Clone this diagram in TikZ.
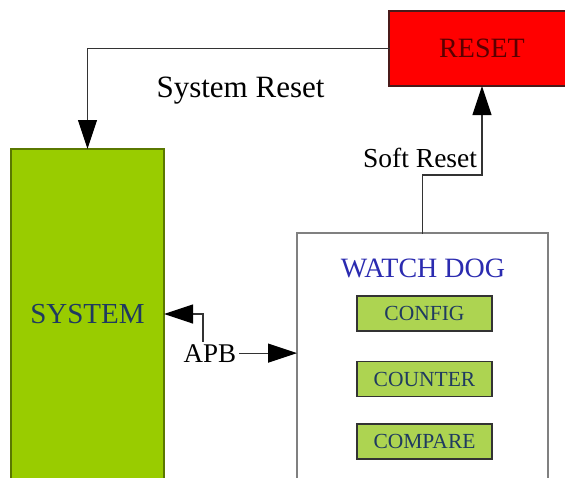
\documentclass[tikz,border=0pt]{standalone}
\usepackage{fontspec}
\setmainfont{Liberation Serif}
\usetikzlibrary{arrows.meta}

\begin{document}
\begin{tikzpicture}[x=1pt,y=-1pt,line cap=rect,
  blk/.style={inner sep=0, outer sep=0, line width=1.5pt},
  subblk/.style={blk, draw=custcol_33_33_33, fill=custcol_ad_d4_51, text=custcol_1f_3a_60,
    minimum width=135pt, minimum height=35pt, font=\fontsize{21.5pt}{21.5pt}\selectfont},
  sig/.style={line width=1.2pt, custcol_33_33_33, -{Triangle[length=29pt,width=19pt,color=custcol_0_0_0]}},
  lbl/.style={inner sep=0, outer sep=0, custcol_0_0_0}]
\definecolor{custcol_0_0_0}{RGB}{0, 0, 0}
\definecolor{custcol_33_33_33}{RGB}{51, 51, 51}
\definecolor{custcol_ff_00_00}{RGB}{255, 0, 0}
\definecolor{custcol_5a_00_00}{RGB}{90, 0, 0}
\definecolor{custcol_4a_1a_1a}{RGB}{74, 26, 26}
\definecolor{custcol_99_cc_00}{RGB}{153, 204, 0}
\definecolor{custcol_5a_78_00}{RGB}{90, 120, 0}
\definecolor{custcol_ad_d4_51}{RGB}{173, 212, 81}
\definecolor{custcol_1f_3a_60}{RGB}{31, 58, 96}
\definecolor{custcol_2b_2b_b0}{RGB}{43, 43, 176}
\definecolor{custcol_80_80_80}{RGB}{128, 128, 128}
\useasboundingbox (0,0) rectangle (565,477);
\clip (0,0) rectangle (565,477);
% blocks
\node[blk, draw=custcol_4a_1a_1a, fill=custcol_ff_00_00, text=custcol_5a_00_00,
  minimum width=186pt, minimum height=75pt, font=\fontsize{28pt}{28pt}\selectfont] (reset) at (482,48.5) {RESET};
\node[blk, draw=custcol_5a_78_00, fill=custcol_99_cc_00, text=custcol_1f_3a_60,
  minimum width=153pt, minimum height=330pt, font=\fontsize{29pt}{29pt}\selectfont] (system) at (87.5,314) {SYSTEM};
\node[blk, draw=custcol_80_80_80, fill=white, minimum width=251pt, minimum height=260pt, anchor=north] (watchdog) at (422.5,233) {};
\node[lbl, custcol_2b_2b_b0, anchor=base, font=\fontsize{28pt}{28pt}\selectfont] (wdtitle) at (423,277) {WATCH DOG};
\node[subblk] (config) at (424.5,313.5) {CONFIG};
\node[subblk] (counter) at (424.5,379) {COUNTER};
\node[subblk] (compare) at (424.5,441.5) {COMPARE};
% labels
\node[lbl, anchor=base, font=\fontsize{31pt}{31pt}\selectfont] (sysrst) at (240.5,97) {System Reset};
\node[lbl, anchor=base east, font=\fontsize{27.5pt}{27.5pt}\selectfont] (softrst) at (477,167) {Soft Reset};
\node[lbl, inner sep=3pt, anchor=base, font=\fontsize{27pt}{27pt}\selectfont] (apb) at (210,362) {APB};
\coordinate (srbend) at (482,175);
% connectors
\draw[sig] (reset.west) -| (system.north);
\draw[sig] (watchdog.north) |- (srbend) -- (reset.south);
\draw[sig] ([xshift=-7pt]apb.north) |- (system.east);
\draw[sig] (apb.east) -- (apb.east -| watchdog.west);
\end{tikzpicture}
\end{document}
